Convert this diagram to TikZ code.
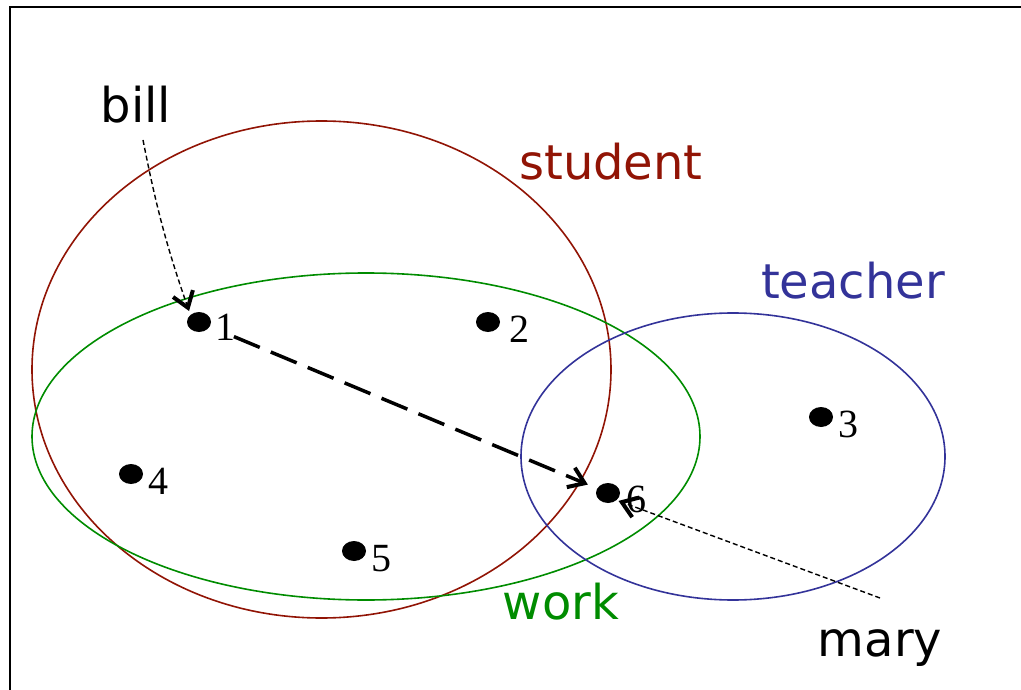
\documentclass[tikz,border=0pt]{standalone}
\usepackage{fontspec}
\setmainfont{DejaVu Sans}
\newfontfamily\numfont{Liberation Serif}
\usetikzlibrary{shapes.geometric,arrows.meta}
\definecolor{stud}{RGB}{145,20,5}
\definecolor{wrk}{RGB}{0,140,0}
\definecolor{tch}{RGB}{51,51,153}
\tikzset{
  dot/.style={ellipse,fill=black,inner sep=0pt,minimum width=24pt,minimum height=20pt},
  num/.style={font=\fontsize{40}{40}\selectfont\numfont,anchor=base,inner sep=0pt},
  word/.style={font=\fontsize{48}{48}\selectfont,anchor=base,inner sep=0pt},
  setline/.style={line width=1.6pt},
  vtip/.style={-{Straight Barb[length=15pt,width=21pt,line width=4pt]}},
  thindash/.style={line width=1.4pt,dash pattern=on 5pt off 3pt},
  bigdash/.style={line width=3.5pt,dash pattern=on 28pt off 12pt}
}
\begin{document}
\begin{tikzpicture}[x=1pt,y=-1pt]
\useasboundingbox (0,0) rectangle (1021,690);
\draw[line width=2pt] (10,690) -- (10,7) -- (1021,7);
% sets
\draw[setline,stud] (321.5,369.5) ellipse [x radius=289.5,y radius=248.5];
\draw[setline,wrk] (366,436.5) ellipse [x radius=334,y radius=163.5];
\draw[setline,tch] (733,456.5) ellipse [x radius=212,y radius=143.5];
\node[word,text=stud] (student) at (611,180) {student};
\node[word,text=wrk] (work) at (561,619) {work};
\node[word,text=tch] (teacher) at (853,298) {teacher};
\node[word] (bill) at (136,123) {bill};
\node[word] (mary) at (880,656) {mary};
% points
\node[dot] (d1) at (199,322) {};
\node[dot] (d2) at (488,322) {};
\node[dot] (d3) at (821,417) {};
\node[dot] (d4) at (131,474) {};
\node[dot] (d5) at (354,551) {};
\node[dot] (d6) at (608,493) {};
\node[num] (l1) at (225,340) {1};
\node[num] (l2) at (519,342) {2};
\node[num] (l3) at (848,437) {3};
\node[num] (l4) at (158,494) {4};
\node[num] (l5) at (381,571) {5};
\node[num] (l6) at (636,512) {6};
% connectors
\coordinate (bs) at (143,140);
\coordinate (ms) at (880,598);
\draw[thindash,vtip,shorten >=4pt] (bs) to[bend right=4] (d1.north west);
\draw[thindash,vtip,shorten >=2pt] (ms) -- (d6.south east);
\draw[bigdash,vtip,shorten <=26pt,shorten >=10pt] (d1) -- (d6);
\end{tikzpicture}
\end{document}
